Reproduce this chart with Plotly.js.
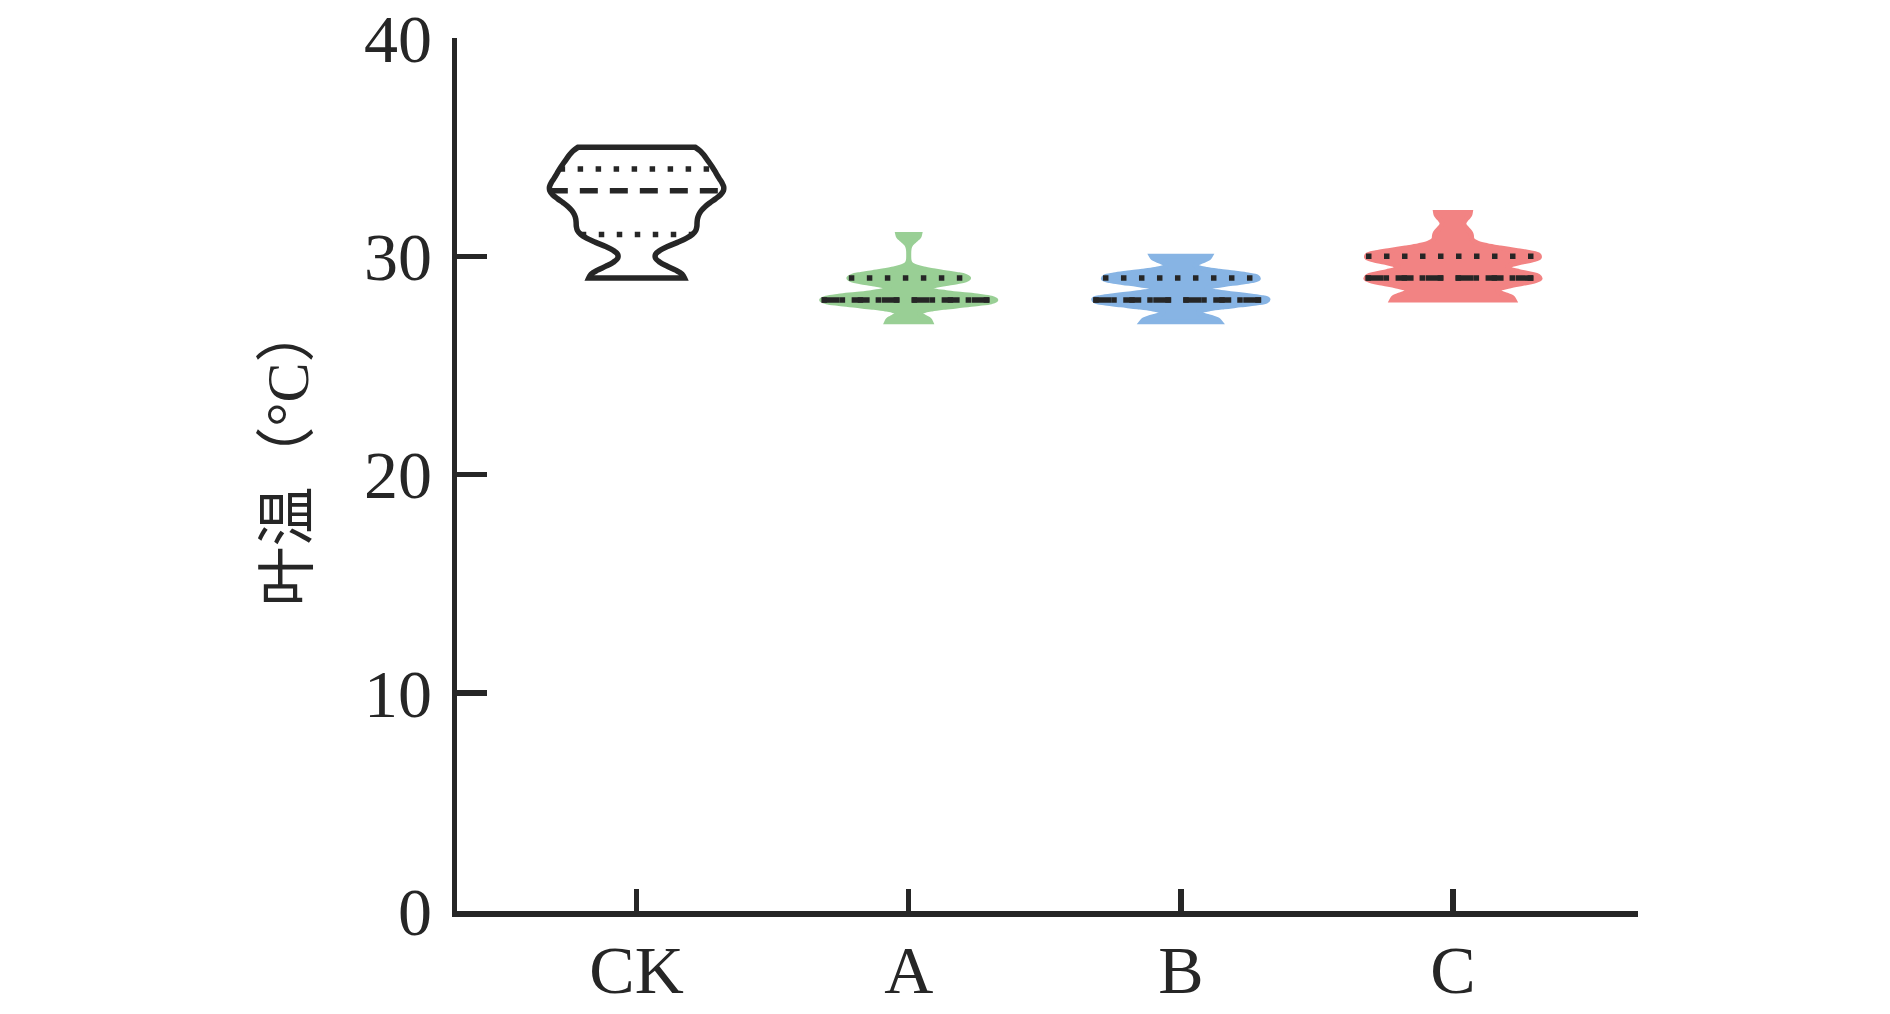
<!DOCTYPE html>
<html>
<head>
<meta charset="utf-8">
<script src="https://cdn.plot.ly/plotly-3.0.1.min.js"></script>
<style>
html,body{margin:0;padding:0;background:#ffffff;}
#chart{width:1890px;height:1014px;}
</style>
</head>
<body>
<div id="chart"></div>
<script>
// ---------- data ----------
const categories = ['CK', 'A', 'B', 'C'];
// leaf temperature values (°C) and how many observations sit at each value
const ckValues = [29, 31, 32, 33, 34, 35];
const ckCounts = [7, 7, 6, 10, 8, 7];
const aValues  = [27, 28, 29, 31];
const aCounts  = [4, 16, 11, 2];
const bValues  = [27, 28, 29, 30];
const bCounts  = [4, 9, 8, 3];
const cValues  = [28, 29, 30, 31, 32];
const cCounts  = [7, 10, 10, 2, 2];
const yTickVals = [0, 10, 20, 30, 40];
const yTitle = '叶温（°C）';

// ---------- style ----------
const INK = '#262626';
const fillColors = ['rgba(255,255,255,0)', '#99cf95', '#87b4e4', '#f28383'];
const lineColors = [INK, '#99cf95', '#87b4e4', '#f28383'];
const bandwidths = [0.55, 0.25, 0.26, 0.33];
const VIOLIN_WIDTH = 0.64;
const SERIF = 'Liberation Serif, Times New Roman, serif';

function expand(vals, counts) {
  const out = [];
  vals.forEach((v, i) => { for (let k = 0; k < counts[i]; k++) out.push(v); });
  return out;
}
const groups = [
  expand(ckValues, ckCounts),
  expand(aValues, aCounts),
  expand(bValues, bCounts),
  expand(cValues, cCounts)
];

function kde(samples, bw) {
  return t => samples.reduce((s, v) => s + Math.exp(-0.5 * ((t - v) / bw) * ((t - v) / bw)), 0);
}
function maxKde(samples, bw) {
  const f = kde(samples, bw);
  const lo = Math.min(...samples), hi = Math.max(...samples);
  const dist = hi - lo;
  const n = Math.ceil(dist / (bw / 3));
  const step = dist / n;
  let m = 0;
  for (let k = 0; k <= n; k++) m = Math.max(m, f(lo + k * step));
  return m;
}
function quantile(samples, p) {
  const s = samples.slice().sort((a, b) => a - b);
  const idx = (s.length - 1) * p;
  const lo = Math.floor(idx), hi = Math.ceil(idx);
  return s[lo] + (s[hi] - s[lo]) * (idx - lo);
}

const traces = [];
groups.forEach((samples, i) => {
  traces.push({
    type: 'violin',
    y: samples,
    x0: i,
    name: categories[i],
    points: false,
    box: {visible: false},
    meanline: {visible: false},
    spanmode: 'hard',
    bandwidth: bandwidths[i],
    scalemode: 'width',
    width: VIOLIN_WIDTH,
    fillcolor: fillColors[i],
    line: {color: lineColors[i], width: i === 0 ? 5.5 : 5},
    hoverinfo: 'skip',
    showlegend: false
  });
});
// quartile lines (dotted Q1/Q3, dashed median), spanning the density width
groups.forEach((samples, i) => {
  const f = kde(samples, bandwidths[i]);
  const m = maxKde(samples, bandwidths[i]);
  [[0.25, 'dot'], [0.5, 'dash'], [0.75, 'dot']].forEach(([p, style]) => {
    const q = quantile(samples, p);
    const hw = (VIOLIN_WIDTH / 2) * f(q) / m;
    traces.push({
      type: 'scatter',
      mode: 'lines',
      x: [i - hw, i + hw],
      y: [q, q],
      line: {color: INK, width: 5.5, dash: style === 'dot' ? '5.5px,12.5px' : '18px,12px'},
      hoverinfo: 'skip',
      showlegend: false
    });
  });
});

const axisCommon = {
  showgrid: false,
  zeroline: false,
  showline: true,
  linecolor: INK,
  linewidth: 5.5,
  ticks: 'inside',
  tickwidth: 5.5,
  tickcolor: INK,
  tickfont: {family: SERIF, size: 68, color: INK}
};

const layout = {
  width: 1890,
  height: 1014,
  margin: {l: 457, r: 252, t: 38, b: 103, pad: 0},
  paper_bgcolor: '#ffffff',
  plot_bgcolor: '#ffffff',
  showlegend: false,
  violinmode: 'overlay',
  xaxis: Object.assign({}, axisCommon, {
    type: 'linear',
    range: [-0.66, 3.68],
    tickmode: 'array',
    tickvals: [0, 1, 2, 3],
    ticktext: categories,
    ticklen: 22,
    ticklabelstandoff: -5
  }),
  yaxis: Object.assign({}, axisCommon, {
    range: [0, 40],
    tickmode: 'array',
    tickvals: yTickVals,
    ticktext: yTickVals.map(String),
    ticklen: 30,
    ticklabelstandoff: 6
  }),
  annotations: [{
    text: yTitle,
    xref: 'paper', yref: 'paper',
    x: -0.143, y: 0.523,
    xanchor: 'center', yanchor: 'middle',
    textangle: -90,
    showarrow: false,
    font: {family: 'Liberation Serif, Noto Sans CJK SC, serif', size: 60, color: INK}
  }]
};

Plotly.newPlot('chart', traces, layout, {staticPlot: true, displayModeBar: false});
</script>
</body>
</html>
